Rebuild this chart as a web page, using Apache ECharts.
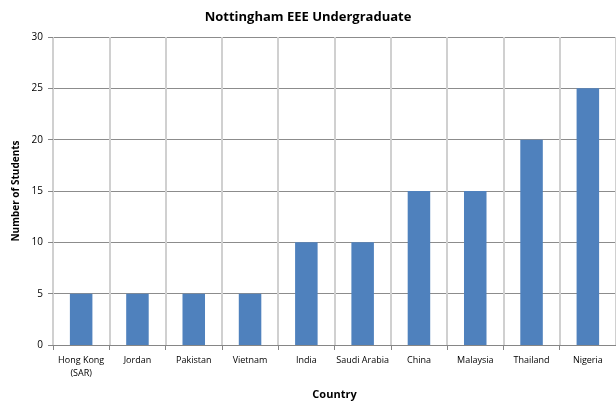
<!DOCTYPE html>
<html><head><meta charset="utf-8">
<script src="https://cdn.jsdelivr.net/npm/echarts@6/dist/echarts.min.js"></script>
<style>html,body{margin:0;padding:0;background:#fff}#c{width:616px;height:405px}</style>
</head><body><div id="c"></div>
<script>
const categories = ['Hong Kong\n(SAR)','Jordan','Pakistan','Vietnam','India','Saudi Arabia','China','Malaysia','Thailand','Nigeria'];
const students = [5,5,5,5,10,10,15,15,20,25];
const yTicks = {min:0, max:30, interval:5};
const chart = echarts.init(document.getElementById('c'));
const font = 'Open Sans';
chart.setOption({
  animation:false,
  title:{text:'Nottingham EEE Undergraduate',left:'center',top:6,textStyle:{fontFamily:font,fontSize:13,fontWeight:'bold',color:'#000'}},
  grid:{left:53,top:37,width:570,height:309,containLabel:false},
  xAxis:{type:'category',data:categories,name:'Country',nameLocation:'middle',nameGap:44,
    nameTextStyle:{fontFamily:font,fontSize:11,fontWeight:'bold',color:'#000',padding:[0,0,0,0]},
    axisLine:{lineStyle:{color:'#868686'}},axisTick:{show:true,length:5,lineStyle:{color:'#868686'}},
    axisLabel:{fontFamily:font,fontSize:9,color:'#000',margin:9,interval:0,lineHeight:13},
    splitLine:{show:true,lineStyle:{color:'#d0d0d0',width:2}}},
  yAxis:{type:'value',min:yTicks.min,max:yTicks.max,interval:yTicks.interval,name:'Number of Students',nameLocation:'middle',nameGap:31,
    nameTextStyle:{fontFamily:font,fontSize:10,fontWeight:'bold',color:'#000'},
    axisLine:{show:false},axisTick:{show:true,length:5,lineStyle:{color:'#868686'}},
    axisLabel:{fontFamily:font,fontSize:10,color:'#000',margin:10},
    splitLine:{show:true,lineStyle:{color:'#8c8c8c',width:1}}},
  series:[{type:'bar',data:students,barWidth:'40%',itemStyle:{color:'#4f81bd'}}]
});
</script></body></html>
